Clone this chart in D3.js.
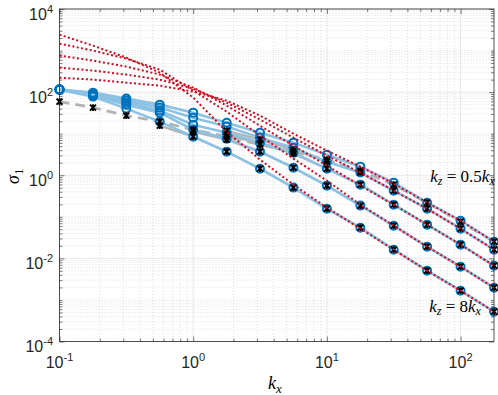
<!DOCTYPE html>
<html>
<head>
<meta charset="utf-8">
<script src="https://cdn.jsdelivr.net/npm/d3@7"></script>
<style>
  html, body { margin: 0; padding: 0; background: #fff; }
  svg { display: block; }
</style>
</head>
<body>
<div id="chart"></div>
<script>
// ---------------- data ----------------
const kx = [0.1, 0.178, 0.316, 0.562, 1, 1.78, 3.16, 5.62, 10, 17.8, 31.6, 56.2, 100, 178];
const seriesNames = ["0.5", "1", "2", "4", "8"];   // kz = c * kx

// blue: sigma_1 (solid light blue line, hollow circles)
const sigmaBlue05 = [115, 97.2, 69.8, 50.0, 32.1, 18.4, 10.6, 6.09, 3.13, 1.61, 0.664, 0.219, 0.0807, 0.0252];
const sigmaBlue1  = [115, 92.0, 62.5, 42.4, 24.3, 14.8, 8.04, 4.61, 2.12, 1.16, 0.426, 0.157, 0.0519, 0.0162];
const sigmaBlue2  = [115, 87.1, 55.8, 35.9, 16.5, 10.6, 6.09, 3.50, 1.44, 0.594, 0.196, 0.0647, 0.0214, 0.00667];
const sigmaBlue4  = [115, 82.4, 50.0, 32.1, 12.5, 7.60, 3.70, 1.52, 0.562, 0.186, 0.0612, 0.0191, 0.00631, 0.00197];
const sigmaBlue8  = [115, 78.0, 40.1, 19.5, 8.49, 3.70, 1.44, 0.504, 0.157, 0.0548, 0.0162, 0.00506, 0.00167, 0.000522];

// black crosses joined by gray lines (null = not computed)
const sigmaBlack05 = [59.1, 42.4, 27.2, 19.5, 12.5, 8.49, 5.45, 3.70, 2.37, 1.29, 0.594, 0.219, 0.0764, 0.0252];
const sigmaBlack1  = [null, null, null, null, null, 11.8, 7.19, 4.13, 2.12, 1.16, 0.426, 0.157, 0.0519, 0.0162];
const sigmaBlack2  = [null, null, null, null, null, 9.49, 5.76, 3.31, 1.44, 0.594, 0.196, 0.0647, 0.0214, 0.00667];
const sigmaBlack4  = [null, null, null, null, 11.2, 7.19, 3.70, 1.52, 0.562, 0.186, 0.0612, 0.0191, 0.00631, 0.00197];
const sigmaBlack8  = [null, null, null, 15.6, 8.49, 3.70, 1.44, 0.504, 0.157, 0.0548, 0.0162, 0.00506, 0.00167, 0.000522];

// red dotted: asymptotic estimate
const sigmaRed05 = [223, 200, 169, 143, 103, 62.4, 27.2, 10.0, 3.91, 1.61, 0.628, 0.219, 0.0807, 0.0252];
const sigmaRed1  = [389, 329, 264, 200, 121, 55.8, 21.8, 8.04, 2.96, 1.16, 0.426, 0.157, 0.0519, 0.0162];
const sigmaRed2  = [756, 573, 411, 264, 128, 47.3, 15.6, 5.16, 1.70, 0.562, 0.196, 0.0647, 0.0214, 0.00667];
const sigmaRed4  = [1470, 997, 640, 348, 109, 33.9, 8.97, 2.51, 0.741, 0.196, 0.0612, 0.0191, 0.00631, 0.00197];
const sigmaRed8  = [2420, 1315, 676, 294, 73.8, 11.2, 2.37, 0.594, 0.166, 0.0519, 0.0162, 0.00506, 0.00167, 0.000522];

const xTickValues = [0.1, 1, 10, 100];
const xTickExps = ["-1", "0", "1", "2"];
const yTickValues = [1e-4, 1e-2, 1, 1e2, 1e4];
const yTickExps = ["-4", "-2", "0", "2", "4"];
const annotations = [
  { c: "0.5", x: 180, y: 0.70 },
  { c: "8", x: 142, y: 0.00052 }
];

const blueSeries  = [sigmaBlue05, sigmaBlue1, sigmaBlue2, sigmaBlue4, sigmaBlue8];
const blackSeries = [sigmaBlack05, sigmaBlack1, sigmaBlack2, sigmaBlack4, sigmaBlack8];
const redSeries   = [sigmaRed05, sigmaRed1, sigmaRed2, sigmaRed4, sigmaRed8];

// ---------------- layout ----------------
const W = 498, H = 395;
const L = 59.5, R = 494, T = 9, B = 341.5;

const x = d3.scaleLog().domain([0.1, Math.pow(10, 2.25)]).range([L, R]);
const y = d3.scaleLog().domain([1e-4, 1e4]).range([B, T]);

const svg = d3.select("#chart").append("svg").attr("width", W).attr("height", H);

// minor / major grid
const gGrid = svg.append("g");
const xMinor = [], yMinor = [];
for (let e = -1; e <= 2; e++) for (let m = 2; m <= 9; m++) { const v = m * Math.pow(10, e); if (v <= x.domain()[1]) xMinor.push(v); }
for (let e = -4; e <= 3; e++) for (let m = 1; m <= 9; m++) { const v = m * Math.pow(10, e); if (!yTickValues.includes(v) && v > 1e-4) yMinor.push(v); }
gGrid.selectAll(".xmin").data(xMinor).enter().append("line")
  .attr("x1", d => x(d)).attr("x2", d => x(d)).attr("y1", T).attr("y2", B)
  .attr("stroke", "#d2d2d2").attr("stroke-width", 0.7).attr("stroke-dasharray", "1,2");
gGrid.selectAll(".ymin").data(yMinor).enter().append("line")
  .attr("y1", d => y(d)).attr("y2", d => y(d)).attr("x1", L).attr("x2", R)
  .attr("stroke", "#d2d2d2").attr("stroke-width", 0.7).attr("stroke-dasharray", "1,2");
gGrid.selectAll(".xmaj").data(xTickValues).enter().append("line")
  .attr("x1", d => x(d)).attr("x2", d => x(d)).attr("y1", T).attr("y2", B)
  .attr("stroke", "#e3e3e3").attr("stroke-width", 0.8);
gGrid.selectAll(".ymaj").data(yTickValues).enter().append("line")
  .attr("y1", d => y(d)).attr("y2", d => y(d)).attr("x1", L).attr("x2", R)
  .attr("stroke", "#e3e3e3").attr("stroke-width", 0.8);

// axes ticks
const axisColor = "#262626";
function styleAxis(g) { g.select(".domain").remove(); g.selectAll("line").attr("stroke", axisColor).attr("stroke-width", 0.6); }
svg.append("g").attr("transform", `translate(0,${B})`).call(d3.axisBottom(x).tickValues(xMinor).tickSize(-3).tickFormat("")).call(styleAxis);
svg.append("g").attr("transform", `translate(0,${B})`).call(d3.axisBottom(x).tickValues(xTickValues).tickSize(-5).tickFormat("")).call(styleAxis);
svg.append("g").attr("transform", `translate(0,${T})`).call(d3.axisTop(x).tickValues(xMinor).tickSize(-3).tickFormat("")).call(styleAxis);
svg.append("g").attr("transform", `translate(0,${T})`).call(d3.axisTop(x).tickValues(xTickValues).tickSize(-5).tickFormat("")).call(styleAxis);
svg.append("g").attr("transform", `translate(${L},0)`).call(d3.axisLeft(y).tickValues(yMinor).tickSize(-3).tickFormat("")).call(styleAxis);
svg.append("g").attr("transform", `translate(${L},0)`).call(d3.axisLeft(y).tickValues(yTickValues).tickSize(-5).tickFormat("")).call(styleAxis);
svg.append("g").attr("transform", `translate(${R},0)`).call(d3.axisRight(y).tickValues(yMinor).tickSize(-3).tickFormat("")).call(styleAxis);
svg.append("g").attr("transform", `translate(${R},0)`).call(d3.axisRight(y).tickValues(yTickValues).tickSize(-5).tickFormat("")).call(styleAxis);

// data layers
const plot = svg.append("g");
const line = d3.line().defined(d => d != null).x((d, i) => x(kx[i])).y(d => y(d));

// gray lines (under blue)
blackSeries.forEach((s, j) => {
  plot.append("path").datum(s).attr("d", line).attr("fill", "none")
    .attr("stroke", "#b3b3b3").attr("stroke-width", j === 0 ? 2.8 : 2.2)
    .attr("stroke-dasharray", j === 0 ? "10,6" : null);
});
// blue lines
blueSeries.forEach(s => {
  plot.append("path").datum(s).attr("d", line).attr("fill", "none")
    .attr("stroke", "#8cc2e3").attr("stroke-width", 2.6);
});
// blue circles
blueSeries.forEach(s => {
  plot.append("g").selectAll("circle").data(s).enter().append("circle")
    .attr("cx", (d, i) => x(kx[i])).attr("cy", d => y(d)).attr("r", 4)
    .attr("fill", "none").attr("stroke", "#0072bd").attr("stroke-width", 2);
});
// black crosses
blackSeries.forEach(s => {
  const g = plot.append("g");
  g.selectAll("path").data(s.map((v, i) => ({ v, i })).filter(d => d.v != null)).enter().append("path")
    .attr("transform", d => `translate(${x(kx[d.i])},${y(d.v)})`)
    .attr("d", "M-3,-3L3,3M-3,3L3,-3M0,-3.3L0,3.3")
    .attr("stroke", "#000").attr("stroke-width", 1.9).attr("fill", "none");
});
// red dotted
redSeries.forEach(s => {
  plot.append("path").datum(s).attr("d", line).attr("fill", "none")
    .attr("stroke", "#d40a1e").attr("stroke-width", 2).attr("stroke-dasharray", "2,2.4");
});

// box
svg.append("rect").attr("x", L).attr("y", T).attr("width", R - L).attr("height", B - T)
  .attr("fill", "none").attr("stroke", axisColor).attr("stroke-width", 0.8);

// tick labels
const tickFont = "'Liberation Sans', Arial, Helvetica, sans-serif";
const tl = svg.append("g").attr("font-family", tickFont).attr("fill", "#262626");
xTickValues.forEach((v, i) => {
  const t = tl.append("text").attr("x", x(v)).attr("y", 368).attr("text-anchor", "middle").attr("font-size", 16);
  t.append("tspan").text("10");
  t.append("tspan").attr("font-size", 11).attr("dy", -7).text(xTickExps[i]);
});
yTickValues.forEach((v, i) => {
  const t = tl.append("text").attr("x", 53).attr("y", y(v) + 10.5).attr("text-anchor", "end").attr("font-size", 16);
  t.append("tspan").text("10");
  t.append("tspan").attr("font-size", 11).attr("dy", -7).text(yTickExps[i]);
});

// axis labels
const mathFont = "'Liberation Serif', 'Times New Roman', serif";
const xlab = svg.append("text").attr("x", 268).attr("y", 389).attr("font-family", mathFont)
  .attr("font-style", "italic").attr("font-size", 18).attr("fill", "#000");
xlab.append("tspan").text("k");
xlab.append("tspan").attr("font-size", 13).attr("dy", 4).text("x");

const ylab = svg.append("text").attr("transform", "translate(19,184) rotate(-90)")
  .attr("font-family", mathFont).attr("font-style", "italic").attr("font-size", 18).attr("fill", "#000");
ylab.append("tspan").text("σ");
ylab.append("tspan").attr("font-style", "normal").attr("font-size", 13).attr("dy", 4).text("1");

// annotations
annotations.forEach(a => {
  const t = svg.append("text").attr("x", x(a.x)).attr("y", y(a.y))
    .attr("text-anchor", "end").attr("font-family", mathFont).attr("font-size", 17).attr("fill", "#000");
  t.append("tspan").attr("font-style", "italic").text("k");
  t.append("tspan").attr("font-style", "italic").attr("font-size", 12).attr("dy", 3).text("z");
  t.append("tspan").attr("dy", -3).text(" = " + a.c);
  t.append("tspan").attr("font-style", "italic").text("k");
  t.append("tspan").attr("font-style", "italic").attr("font-size", 12).attr("dy", 3).text("x");
});
</script>
</body>
</html>
